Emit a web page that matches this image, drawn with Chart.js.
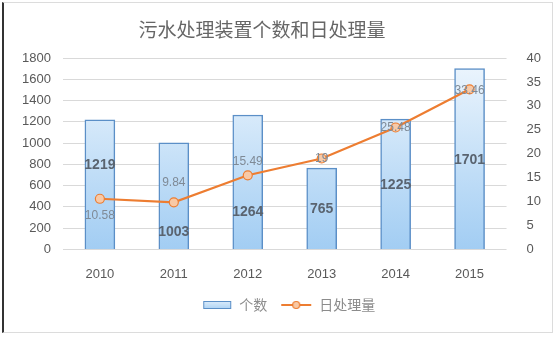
<!DOCTYPE html>
<html>
<head>
<meta charset="utf-8">
<script src="https://cdn.jsdelivr.net/npm/chart.js@4.4.0/dist/chart.umd.min.js"></script>
<style>
  html, body { margin: 0; padding: 0; background: #fff; }
  #wrap { position: relative; width: 558px; height: 337px; }
  #frame {
    position: absolute; left: 2px; top: 2px; width: 551px; height: 331px;
    border: 1px solid #dcdcdc; border-left: 2px solid #333; box-sizing: border-box;
  }
  canvas { position: absolute; left: 0; top: 0; }
</style>
</head>
<body>
<div id="wrap">
  <div id="frame"></div>
  <canvas id="chart" width="558" height="337"></canvas>
</div>
<script>
const chartTitle = "污水处理装置个数和日处理量";
const years = ["2010", "2011", "2012", "2013", "2014", "2015"];
const unitCount = [1219, 1003, 1264, 765, 1225, 1701];
const dailyVolume = [10.58, 9.84, 15.49, 19, 25.48, 33.46];
const countTicks = [0, 200, 400, 600, 800, 1000, 1200, 1400, 1600, 1800];
const volumeTicks = [0, 5, 10, 15, 20, 25, 30, 35, 40];

// label nudges (px) relative to the default anchor
const countLabelShift = [-19, 36, 30, 1, 1, 1];
const volumeLabelShift = [[0, 17], [0, -20], [0, -14], [0, 0], [0, 0], [0, 1]];

const grey = "#595959";
const orange = "#ed7d31";
const tickFont = { size: 13, family: "'Liberation Sans', Arial, sans-serif" };

const barFill = (ctx) => {
  const { chart } = ctx;
  const area = chart.chartArea;
  if (!area) return "#bcdcf7";
  const g = chart.ctx.createLinearGradient(0, area.top, 0, area.bottom);
  g.addColorStop(0, "#eef6fd");
  g.addColorStop(1, "#a2cdf3");
  return g;
};

// legend swatches, 38px wide with some empty space on the left
const makeIcon = (kind, lead) => {
  const c = document.createElement("canvas");
  const x = c.getContext("2d");
  c.width = 38; c.height = 10;
  x.translate(lead, 0);
  if (kind === "bar") {
    const g = x.createLinearGradient(0, 0, 0, 10);
    g.addColorStop(0, "#e3f0fc");
    g.addColorStop(1, "#a6cff3");
    x.fillStyle = g;
    x.fillRect(1, 1, 28, 8);
    x.strokeStyle = "#5b8fc7";
    x.lineWidth = 1;
    x.strokeRect(1.5, 1.5, 27, 7);
  } else {
    x.strokeStyle = orange;
    x.lineWidth = 2;
    x.beginPath(); x.moveTo(0, 5); x.lineTo(30, 5); x.stroke();
    x.beginPath(); x.arc(15, 5, 3.5, 0, Math.PI * 2);
    x.fillStyle = "#f8c9a6"; x.fill();
    x.lineWidth = 1.2; x.stroke();
  }
  return c;
};
const legendIcons = [makeIcon("bar", 8), makeIcon("line", 7)];

// title sits a little left of centre, so it is drawn by hand
const titleText = {
  id: "titleText",
  afterDraw(chart) {
    const ctx = chart.ctx;
    ctx.save();
    ctx.font = "19px 'Noto Sans CJK SC', sans-serif";
    ctx.fillStyle = "#666";
    ctx.textAlign = "center";
    ctx.textBaseline = "middle";
    ctx.fillText(chartTitle, 262, 30);
    ctx.restore();
  }
};

const valueLabels = {
  id: "valueLabels",
  afterDatasetsDraw(chart) {
    const ctx = chart.ctx;
    ctx.save();
    ctx.textAlign = "center";
    ctx.textBaseline = "middle";

    const bars = chart.getDatasetMeta(0).data;
    ctx.font = "bold 14px 'Liberation Sans', Arial, sans-serif";
    ctx.fillStyle = "#5a6470";
    bars.forEach((b, i) => {
      const mid = (b.y + b.base) / 2;
      ctx.fillText(String(unitCount[i]), b.x, mid + countLabelShift[i]);
    });

    const pts = chart.getDatasetMeta(1).data;
    ctx.font = "12px 'Liberation Sans', Arial, sans-serif";
    ctx.fillStyle = "#7f8a96";
    pts.forEach((p, i) => {
      const [dx, dy] = volumeLabelShift[i];
      ctx.fillText(String(dailyVolume[i]), p.x + dx, p.y + dy);
    });
    ctx.restore();
  }
};

new Chart(document.getElementById("chart"), {
  data: {
    labels: years,
    datasets: [
      {
        type: "bar",
        label: "个数",
        data: unitCount,
        yAxisID: "y",
        backgroundColor: barFill,
        borderColor: "#5b8fc7",
        borderWidth: 1.5,
        barThickness: 30,
        order: 2,
      },
      {
        type: "line",
        label: "日处理量",
        data: dailyVolume,
        yAxisID: "y1",
        borderColor: orange,
        borderWidth: 2.2,
        pointRadius: 4.5,
        pointBackgroundColor: "#f8c9a6",
        pointBorderColor: orange,
        pointBorderWidth: 1.2,
        tension: 0,
        order: 1,
      },
    ],
  },
  options: {
    responsive: false,
    animation: false,
    layout: { padding: { left: 10, right: 5, top: 58, bottom: 15 } },
    plugins: {
      title: { display: false },
      legend: {
        position: "bottom",
        fullSize: false,
        labels: {
          usePointStyle: true,
          pointStyleWidth: 38,
          color: "#8c8c8c",
          font: { size: 14, family: "'Noto Sans CJK SC', sans-serif" },
          padding: 7,
          generateLabels: (chart) => chart.data.datasets.map((ds, i) => ({
            text: ds.label,
            pointStyle: legendIcons[i],
            fontColor: "#8c8c8c",
            datasetIndex: i,
            lineWidth: 0,
          })),
        },
      },
      tooltip: { enabled: false },
    },
    scales: {
      x: {
        grid: { display: false },
        border: { display: false },
        ticks: { color: grey, padding: 9, font: tickFont },
      },
      y: {
        position: "left",
        min: 0,
        max: 1800,
        afterBuildTicks: (axis) => { axis.ticks = countTicks.map((v) => ({ value: v })); },
        grid: { color: "#d9d9d9", drawTicks: false },
        border: { display: false },
        ticks: { color: grey, padding: 12, font: tickFont, callback: (v) => String(v) },
      },
      y1: {
        position: "right",
        min: 0,
        max: 40,
        afterBuildTicks: (axis) => { axis.ticks = volumeTicks.map((v) => ({ value: v })); },
        grid: { display: false },
        border: { display: false },
        ticks: { color: grey, padding: 12, font: tickFont, callback: (v) => String(v) },
      },
    },
  },
  plugins: [valueLabels, titleText],
});
</script>
</body>
</html>
